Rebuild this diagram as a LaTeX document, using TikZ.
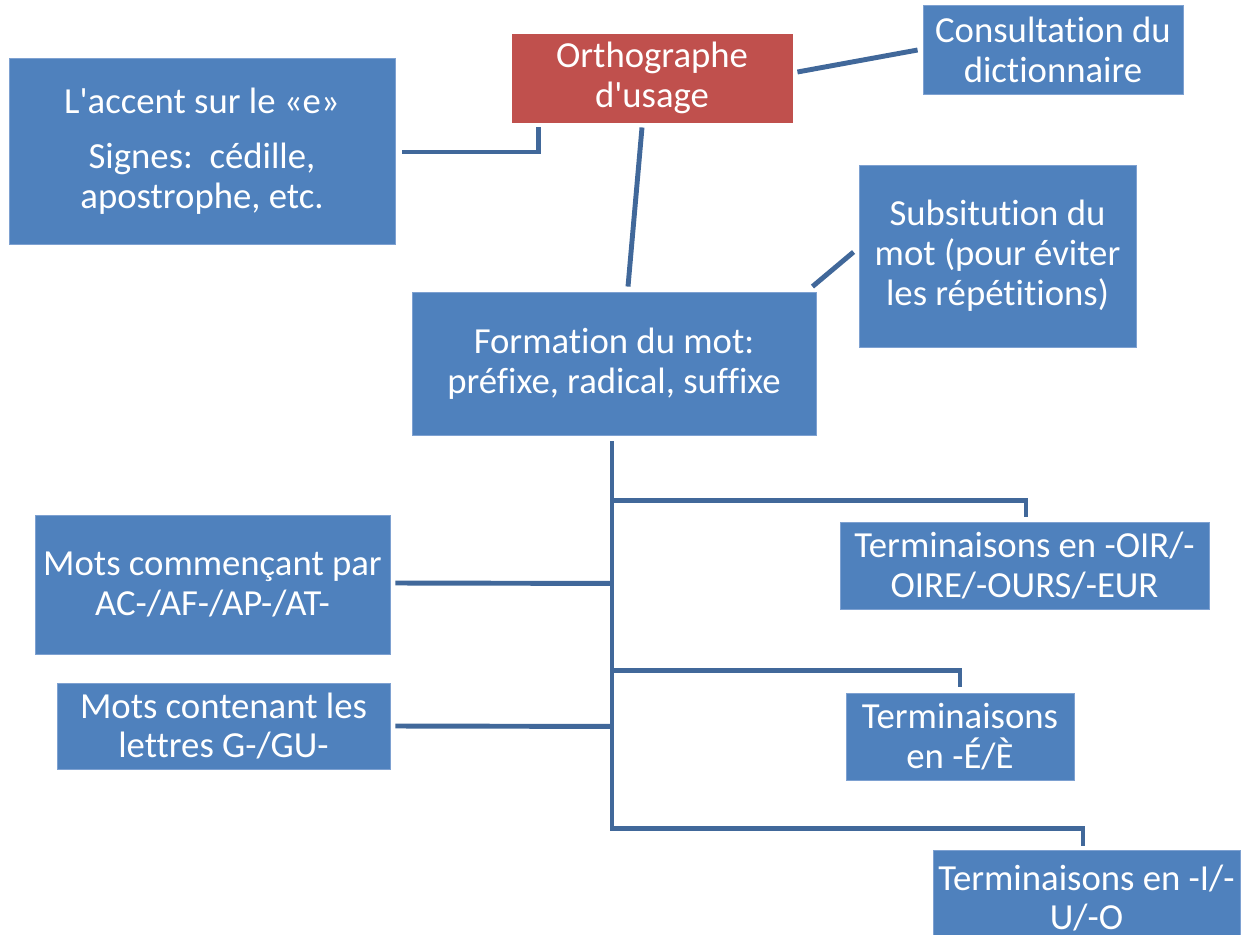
\documentclass[tikz,border=0pt]{standalone}
\usepackage{fontspec}
\setmainfont{Carlito}[Ligatures={TeXOff,NoCommon}]
\usepackage{xcolor}
\usetikzlibrary{calc}
\definecolor{boxblue}{HTML}{4F81BD}
\definecolor{boxedge}{HTML}{7EA1D1}
\definecolor{boxred}{HTML}{C0504D}
\definecolor{linkblue}{HTML}{41689A}

\begin{document}
\begin{tikzpicture}[x=0.02cm, y=-0.02cm,
        box/.style={rectangle, fill=boxblue, draw=boxedge, line width=0.5pt, text=white,
            align=center, inner sep=0pt, font=\fontsize{20.9}{22.7}\selectfont},
        sz/.style 2 args={minimum width=#1*0.02cm, minimum height=#2*0.02cm},
        conn/.style={draw=linkblue, line width=2.8pt}]
        \useasboundingbox (0,0) rectangle (1246,934);
        \clip (0,0) rectangle (1246,934);
        % boxes
        \node[box, fill=boxred, draw=boxred, sz={280}{88}] (ortho) at (652,78) {Orthographe\\d'usage};
        \node[box, sz={260}{89}] (consult) at (1053,49.5) {Consultation du\\dictionnaire};
        \node[box, sz={386}{186}] (accent) at (202,151) {L'accent sur le «e»\\[9pt]Signes:\ \ cédille,\\apostrophe, etc.};
        \node[box, sz={277}{182}] (subst) at (997.5,256) {Subsitution du\\mot (pour éviter\\les répétitions)};
        \node[box, sz={404}{143}] (formation) at (614,363.5) {Formation du mot:\\préfixe, radical, suffixe};
        \node[box, sz={355}{139}] (commencant) at (212.5,584.5) {Mots commençant par\\AC-/AF-/AP-/AT-};
        \node[box, sz={333}{86}] (contenant) at (223.5,726) {Mots contenant les\\lettres G-/GU-};
        \node[box, sz={369}{87}] (oir) at (1024.5,565.5) {Terminaisons en -OIR/-\\OIRE/-OURS/-EUR};
        \node[box, sz={228}{87}] (eacc) at (960,736.5) {Terminaisons\\en -É/È};
        \node[box, sz={307}{96}] (iuo) at (1086.5,898) {Terminaisons en -I/-\\U/-O};
        % links from the top box
        \draw[conn] ($(ortho.south west)+(27,5)$) |- ($(accent.east)+(7,1)$);
        \draw[conn] ($(ortho.south)+(-10,5)$) -- ($(formation.north)+(14,-5)$);
        \draw[conn] ($(ortho.east)+(5,-6)$) -- ($(consult.west)+(-5,0.5)$);
        \draw[conn] ($(formation.north east)+(-4,-5)$) -- ($(subst.west)+(-5,-4)$);
        % tree below formation
        \coordinate (trunk) at ($(formation.south)+(-2,6)$);
        \draw[conn] (trunk) -- ++(0,387) -| ($(iuo.north)+(-3.5,-4)$);
        \draw[conn] ($(trunk)+(0,59)$) -| ($(oir.north)+(1.5,-5)$);
        \draw[conn] ($(trunk)+(0,229)$) -| ($(eacc.north)+(0,-6)$);
        \draw[conn] ($(commencant.east)+(5,-1.5)$) -- ($(trunk)+(0,142)$);
        \draw[conn] ($(contenant.east)+(5,0)$) -- ($(trunk)+(0,285)$);
\end{tikzpicture}
\end{document}
